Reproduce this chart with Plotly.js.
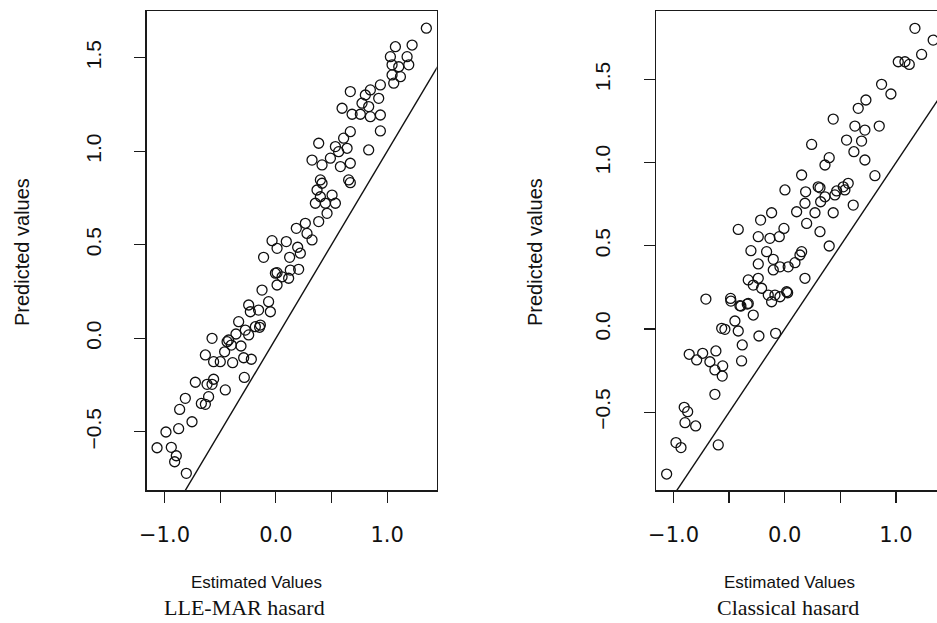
<!DOCTYPE html>
<html>
<head>
<meta charset="utf-8">
<script src="https://cdn.plot.ly/plotly-3.0.1.min.js"></script>
<style>
  html, body { margin: 0; padding: 0; overflow: hidden; background: #fff; }
  #chart { width: 960px; height: 623px; }
</style>
</head>
<body>
<div id="chart"></div>
<script>
// ---- Data: LLE-MAR hasard (left panel) ----
const lleX = [-1.067,-0.987,-0.939,-0.894,-0.909,-0.804,-0.873,-0.753,-0.864,-0.813,-0.723,-0.669,-0.633,-0.604,-0.618,-0.559,-0.573,-0.454,-0.283,-0.633,-0.559,-0.499,-0.573,-0.388,-0.460,-0.438,-0.400,-0.313,-0.289,-0.220,-0.358,-0.274,-0.184,-0.146,-0.334,-0.244,-0.424,
  -0.244,-0.229,-0.155,-0.124,-0.065,-0.049,-0.139,0.011,0.056,0.011,0.130,0.205,0.115,-0.110,-0.034,0.011,0.094,0.124,0.196,0.220,0.184,0.265,0.280,0.325,0.385,0.355,0.400,0.460,0.505,0.535,0.415,0.370,0.445,0.669,-0.004,
  1.352,1.074,1.224,1.029,1.179,1.044,1.104,1.194,1.044,1.119,1.059,0.939,0.849,0.804,0.924,0.774,0.834,0.669,0.595,0.685,0.759,0.849,0.939,0.939,0.834,0.669,0.609,0.385,0.535,0.640,0.564,0.325,0.490,0.415,0.580,0.669,0.654,0.400];
const lleY = [-0.585,-0.501,-0.583,-0.628,-0.660,-0.722,-0.483,-0.446,-0.380,-0.321,-0.235,-0.348,-0.353,-0.312,-0.246,-0.219,-0.246,-0.276,-0.209,-0.089,-0.125,-0.125,0.000,-0.130,-0.072,-0.018,-0.036,-0.041,-0.104,-0.112,0.023,0.044,0.062,0.059,0.089,0.018,-0.009,
  0.178,0.142,0.151,0.258,0.196,0.142,0.071,0.285,0.329,0.351,0.365,0.369,0.321,0.433,0.522,0.481,0.517,0.433,0.487,0.455,0.588,0.615,0.561,0.526,0.624,0.722,0.757,0.668,0.766,0.722,0.829,0.793,0.722,0.832,0.348,
  1.658,1.559,1.568,1.506,1.506,1.462,1.452,1.462,1.408,1.399,1.364,1.355,1.328,1.301,1.283,1.257,1.239,1.319,1.230,1.198,1.198,1.185,1.194,1.109,1.007,1.105,1.070,1.043,1.025,1.016,0.998,0.953,0.963,0.927,0.918,0.936,0.847,0.847];

// ---- Data: Classical hasard (right panel) ----
const clsX = [-1.062,-0.978,-0.933,-0.598,-0.904,-0.873,-0.897,-0.801,-0.628,-0.859,-0.792,-0.738,-0.619,-0.673,-0.628,-0.558,-0.562,-0.388,-0.382,-0.567,-0.538,-0.448,-0.418,-0.232,-0.082,-0.283,-0.394,-0.337,-0.484,
  -0.709,-0.487,-0.403,-0.328,-0.328,-0.283,-0.238,-0.208,-0.148,-0.088,-0.043,0.026,-0.118,0.182,-0.238,-0.103,-0.043,-0.103,0.031,0.092,0.137,0.152,-0.304,-0.163,-0.238,-0.133,-0.049,-0.007,-0.418,-0.217,-0.118,0.107,0.182,0.272,0.197,0.317,0.400,0.188,0.301,0.323,0.362,0.451,0.541,0.571,0.436,0.616,0.152,0.002,
  1.171,1.335,1.231,1.021,1.081,1.120,0.871,0.955,0.661,0.730,0.436,0.631,0.721,0.850,0.556,0.691,0.622,0.721,0.811,0.242,0.400,0.362,0.317,0.526,0.467,0.017];
const clsY = [-0.872,-0.683,-0.713,-0.697,-0.471,-0.497,-0.563,-0.583,-0.393,-0.152,-0.186,-0.146,-0.132,-0.197,-0.246,-0.222,-0.283,-0.192,-0.096,0.004,-0.002,0.048,-0.012,-0.042,-0.026,0.084,0.138,0.150,0.168,
  0.180,0.184,0.140,0.154,0.295,0.264,0.305,0.245,0.204,0.204,0.194,0.218,0.164,0.305,0.391,0.355,0.374,0.419,0.374,0.399,0.445,0.465,0.471,0.465,0.555,0.545,0.555,0.605,0.599,0.655,0.699,0.705,0.756,0.699,0.635,0.585,0.499,0.825,0.855,0.765,0.795,0.806,0.836,0.876,0.699,0.745,0.926,0.836,
  1.808,1.737,1.651,1.607,1.607,1.591,1.471,1.413,1.327,1.377,1.262,1.220,1.196,1.220,1.136,1.130,1.066,1.016,0.922,1.110,1.030,0.986,0.849,0.855,0.830,0.224];

// Reference line y = x
const refLine = [-2, 2];

// Tick labels
const xTickVals = [-1.0, -0.5, 0.0, 0.5, 1.0];
const xTickText = ['\u22121.0', '', '0.0', '', '1.0'];
const yTickVals = [-0.5, 0.0, 0.5, 1.0, 1.5];
const yTickText = ['\u22120.5', '0.0', '0.5', '1.0', '1.5'];

// Labels
const xTitle = 'Estimated Values';
const yTitle = 'Predicted values';
const panelTitles = ['LLE-MAR hasard', 'Classical hasard'];

const W = 960, H = 623;
const px = v => v / W;
const py = v => 1 - v / H;

const marker = { symbol: 'circle-open', size: 10, color: '#111', line: { width: 1.3, color: '#111' } };
const lineStyle = { color: '#111', width: 1.4 };

const traces = [
  { x: lleX, y: lleY, type: 'scatter', mode: 'markers', marker: marker, xaxis: 'x', yaxis: 'y', cliponaxis: true },
  { x: refLine, y: refLine, type: 'scatter', mode: 'lines', line: lineStyle, xaxis: 'x', yaxis: 'y' },
  { x: clsX, y: clsY, type: 'scatter', mode: 'markers', marker: marker, xaxis: 'x2', yaxis: 'y2', cliponaxis: true },
  { x: refLine, y: refLine, type: 'scatter', mode: 'lines', line: lineStyle, xaxis: 'x2', yaxis: 'y2' }
];

const baseAxis = {
  showline: true, mirror: true, linecolor: '#1a1a1a', linewidth: 1.5,
  ticks: 'outside', ticklen: 11, tickwidth: 1.3, tickcolor: '#1a1a1a',
  showgrid: false, zeroline: false, fixedrange: true
};
const xAxis = (domain, range, anchor) => Object.assign({}, baseAxis, {
  domain: domain, range: range, anchor: anchor,
  tickmode: 'array', tickvals: xTickVals, ticktext: xTickText,
  tickfont: { family: 'DejaVu Sans, sans-serif', size: 21, color: '#111' },
  ticklabelstandoff: 14
});
const yAxis = (domain, range, anchor) => Object.assign({}, baseAxis, {
  domain: domain, range: range, anchor: anchor,
  tickmode: 'array', tickvals: yTickVals, ticktext: yTickText,
  tickangle: -90,
  tickfont: { family: 'Liberation Sans, Arial, sans-serif', size: 21, color: '#111' },
  ticklabelstandoff: 25
});

const yDom = [py(490), py(11)];
const xTitleFont = { family: 'Liberation Sans Narrow, Arial Narrow, Liberation Sans, sans-serif', size: 17, color: '#111' };
const panelFont = { family: 'Liberation Serif, Times New Roman, serif', size: 22, color: '#111' };
const layout = {
  width: W, height: H,
  margin: { l: 0, r: 0, t: 0, b: 0 },
  paper_bgcolor: '#fff', plot_bgcolor: '#fff',
  showlegend: false,
  xaxis: xAxis([px(146.7), px(436.7)], [-1.16, 1.445], 'y'),
  yaxis: yAxis(yDom, [-0.811, 1.750], 'x'),
  xaxis2: xAxis([px(656.3), px(946.3)], [-1.155, 1.453], 'y2'),
  yaxis2: yAxis(yDom, [-0.968, 1.912], 'x2'),
  annotations: [
    { text: xTitle, x: px(256), y: py(582), xref: 'paper', yref: 'paper', showarrow: false, xanchor: 'center', yanchor: 'middle', font: xTitleFont },
    { text: panelTitles[0], x: px(245), y: py(607), xref: 'paper', yref: 'paper', showarrow: false, xanchor: 'center', yanchor: 'middle', font: panelFont },
    { text: xTitle, x: px(789), y: py(582), xref: 'paper', yref: 'paper', showarrow: false, xanchor: 'center', yanchor: 'middle', font: xTitleFont },
    { text: panelTitles[1], x: px(788), y: py(607), xref: 'paper', yref: 'paper', showarrow: false, xanchor: 'center', yanchor: 'middle', font: panelFont },
    { text: yTitle, x: px(22), y: py(252), xref: 'paper', yref: 'paper', showarrow: false, xanchor: 'center', yanchor: 'middle', textangle: -90,
      font: { family: 'Liberation Sans, Arial, sans-serif', size: 20, color: '#111' } },
    { text: yTitle, x: px(535), y: py(252), xref: 'paper', yref: 'paper', showarrow: false, xanchor: 'center', yanchor: 'middle', textangle: -90,
      font: { family: 'Liberation Sans, Arial, sans-serif', size: 20, color: '#111' } }
  ]
};

Plotly.newPlot('chart', traces, layout, { staticPlot: true, displayModeBar: false });
</script>
</body>
</html>
